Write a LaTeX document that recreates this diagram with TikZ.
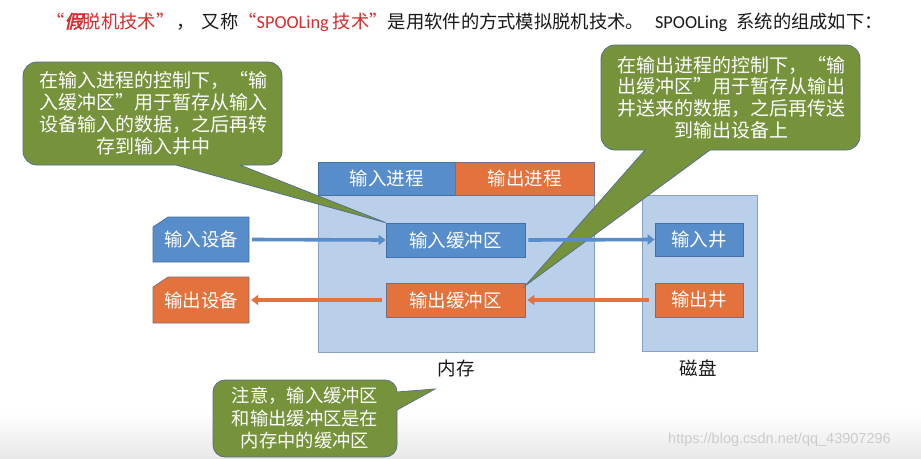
\documentclass[tikz,border=0pt]{standalone}
\usepackage{fontspec}
\setmainfont{Noto Sans CJK SC}
\newfontfamily\latinf{Carlito}
\newfontfamily\jiaf[FakeSlant=0.22,FakeBold=2.5]{Noto Sans CJK SC}
\newfontfamily\wmf{Liberation Sans}
\newcommand\lquo{\makebox[1em][r]{“}}
\newcommand\rquo{\makebox[1em][l]{”}}
\usetikzlibrary{arrows.meta,calc}
\definecolor{cgreen}{RGB}{118,147,60}
\definecolor{cline}{RGB}{86,112,140}
\definecolor{bfill}{RGB}{88,141,204}
\definecolor{bline}{RGB}{70,110,160}
\definecolor{ofill}{RGB}{228,114,60}
\definecolor{oline}{RGB}{120,110,130}
\definecolor{mfill}{RGB}{186,207,233}
\definecolor{mline}{RGB}{135,160,200}
\definecolor{tred}{RGB}{214,44,46}
\definecolor{ttext}{RGB}{25,25,25}
\begin{document}
\begin{tikzpicture}[x=1pt,y=1pt,
  boxtext/.style={text=white, inner sep=0pt, font=\fontsize{18.5}{20}\selectfont},
  bluebox/.style={boxtext, draw=bline, fill=bfill, line width=0.7pt},
  orangebox/.style={boxtext, draw=oline, fill=ofill, line width=0.7pt},
  container/.style={draw=mline, fill=mfill, line width=0.8pt, inner sep=0pt},
  calloutshape/.style={fill=cgreen, draw=cline, line width=0.8pt},
  callouttext/.style={text=white, align=center, inner sep=0pt, font=\fontsize{19}{21.8}\selectfont},
  callouttextsmall/.style={text=white, align=center, inner sep=0pt, font=\fontsize{18.3}{22.6}\selectfont},
  caption/.style={text=ttext, inner sep=0pt, font=\fontsize{18.5}{20}\selectfont},
  barrow/.style={draw=bfill, line width=3.6pt, -{Triangle[length=7pt,width=10pt]}},
  oarrow/.style={draw=ofill, line width=3.6pt, -{Triangle[length=7pt,width=10pt]}}
]
\useasboundingbox (0,0) rectangle (921,-458);
\fill[white] (0,0) rectangle (921,-458);
\shade[top color=white, bottom color=black!9] (0,-412) rectangle (921,-458);

% title
\node[anchor=west, inner sep=0pt, text=ttext, font=\fontsize{18.3}{19}\selectfont] (title) at (46,-22)
  {{\color{tred}\lquo{\jiaf 假}脱机技术\rquo}\hspace{0.1em}，\hspace{0.4em}又称{\color{tred}\lquo{\latinf SPOOLing} 技术\rquo}是用软件的方式模拟脱机技术。\hspace{0.6em}{\latinf SPOOLing}\hspace{0.5em}系统的组成如下：};

% memory
\node[container, minimum width=276, minimum height=190, anchor=north west] (mem) at (318,-162) {};
\node[bluebox, minimum width=137, minimum height=33, anchor=north west] (inproc) at (318,-162) {输入进程};
\node[orangebox, minimum width=139, minimum height=33, anchor=north west] (outproc) at (455,-162) {输出进程};
\node[bluebox, minimum width=139, minimum height=34] (inbuf) at (455.5,-240) {输入缓冲区};
\node[orangebox, minimum width=139, minimum height=34] (outbuf) at (455.5,-300) {输出缓冲区};
\node[caption] (memlabel) at (456,-368) {内存};

% disk
\node[container, minimum width=115, minimum height=156] (disk) at (699.5,-273) {};
\node[bluebox, minimum width=88, minimum height=33] (injing) at (699,-239.5) {输入井};
\node[orangebox, minimum width=88, minimum height=34] (outjing) at (699,-300) {输出井};
\node[caption] (disklabel) at (698,-368) {磁盘};

% devices
\filldraw[fill=bfill, draw=bline, line width=0.7pt] (153,-262) -- (153,-227) -- (168,-217) -- (249,-217) -- (249,-262) -- cycle;
\node[boxtext, minimum width=96, minimum height=45] (indev) at (201,-239.5) {输入设备};
\filldraw[fill=ofill, draw=oline, line width=0.7pt] (153,-323) -- (153,-287) -- (168,-277) -- (249,-277) -- (249,-323) -- cycle;
\node[boxtext, minimum width=96, minimum height=46] (outdev) at (201,-300) {输出设备};

% callouts
\coordinate (tipL) at (inbuf.north west);
\path[calloutshape] (37,-62) -- (268,-62) arc[start angle=90,end angle=0,radius=14] -- (282,-151) arc[start angle=0,end angle=-90,radius=14] -- (240,-165) -- (tipL) -- (176,-165) -- (37,-165) arc[start angle=270,end angle=180,radius=14] -- (23,-76) arc[start angle=180,end angle=90,radius=14] -- cycle;
\node[callouttext] (noteL) at (153,-113.5) {在输入进程的控制下，\lquo 输\\入缓冲区\rquo 用于暂存从输入\\设备输入的数据，之后再转\\存到输入井中};

\coordinate (tipR) at ($(outbuf.north east)+(0,-3)$);
\path[calloutshape] (615,-45) -- (846,-45) arc[start angle=90,end angle=0,radius=14] -- (860,-136) arc[start angle=0,end angle=-90,radius=14] -- (710,-150) -- (tipR) -- (645,-150) -- (615,-150) arc[start angle=270,end angle=180,radius=14] -- (601,-59) arc[start angle=180,end angle=90,radius=14] -- cycle;
\node[callouttext] (noteR) at (731,-97.5) {在输出进程的控制下，\lquo 输\\出缓冲区\rquo 用于暂存从输出\\井送来的数据，之后再传送\\到输出设备上};

\coordinate (tipB) at (435,-389);
\path[calloutshape] (225,-380) -- (385,-380) arc[start angle=90,end angle=0,radius=12] -- (tipB) -- (397,-410) -- (397,-445) arc[start angle=0,end angle=-90,radius=12] -- (225,-457) arc[start angle=270,end angle=180,radius=12] -- (213,-392) arc[start angle=180,end angle=90,radius=12] -- cycle;
\node[callouttextsmall] (noteB) at (305,-418) {注意，输入缓冲区\\和输出缓冲区是在\\内存中的缓冲区};

% arrows
\draw[barrow] ($(indev.east)+(3,0)$) -- (inbuf.west);
\draw[barrow] ($(inbuf.east)+(3,0)$) -- (injing.west);
\draw[oarrow] ($(outjing.west)+(-6,0)$) -- ($(outbuf.east)+(2,0)$);
\draw[oarrow] ($(outbuf.west)+(-4,0)$) -- ($(outdev.east)+(2,0)$);

% watermark
\node[anchor=west, inner sep=0pt, text=black!20, font=\wmf\fontsize{14.5}{16}\selectfont] (wm) at (668,-440) {https://blog.csdn.net/qq\_43907296};
\end{tikzpicture}
\end{document}
